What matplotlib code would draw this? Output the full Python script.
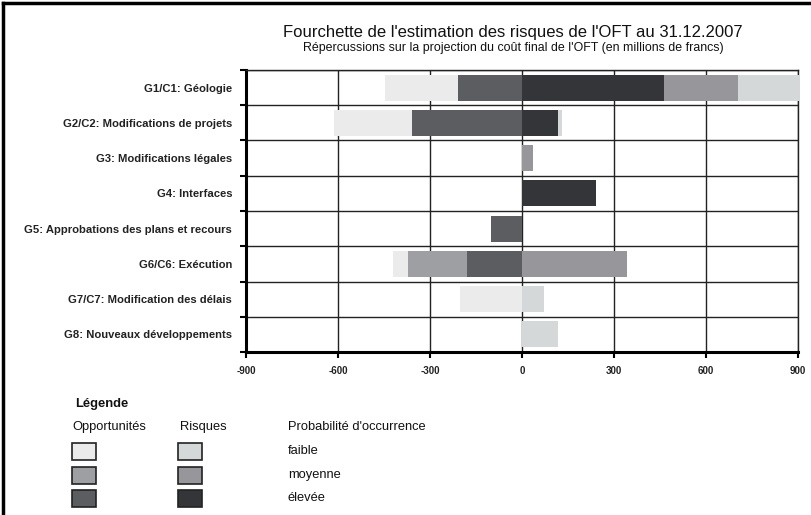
import numpy as np
import matplotlib.pyplot as plt
from matplotlib.patches import Rectangle

plt.rcParams['font.family'] = ['Liberation Sans', 'DejaVu Sans']

# ---- data (millions de francs) ----
categories = [
    "G1/C1: Géologie",
    "G2/C2: Modifications de projets",
    "G3: Modifications légales",
    "G4: Interfaces",
    "G5: Approbations des plans et recours",
    "G6/C6: Exécution",
    "G7/C7: Modification des délais",
    "G8: Nouveaux développements",
]
# opportunités (négatif), segments from 0 outwards: élevée, moyenne, faible
opp_elevee  = [209, 359, 0, 0, 101, 178, 0, 0]
opp_moyenne = [0, 0, 0, 0, 0, 193, 0, 0]
opp_faible  = [238, 253, 0, 0, 0, 51, 202, 0]
# risques (positif), segments from 0 outwards: élevée, moyenne, faible
risk_elevee  = [462, 116, 0, 241, 0, 0, 0, 0]
risk_moyenne = [241, 0, 36, 0, 0, 341, 0, 0]
risk_faible  = [205, 16, 0, 0, 0, 0, 71, 119]

xticks = [-900, -600, -300, 0, 300, 600, 900]

# colours
C_OPP = {"faible": "#ebebeb", "moyenne": "#9d9fa2", "elevee": "#5c5d61"}
C_RISK = {"faible": "#d5d8d8", "moyenne": "#97979b", "elevee": "#343538"}

fig = plt.figure(figsize=(8.11, 5.15), dpi=100)
ax = fig.add_axes([246 / 811, 1 - 352 / 515, 552 / 811, 282 / 515])

y = np.arange(len(categories)) + 0.5
h = 0.74

# opportunities, stacked leftwards
o1 = -np.array(opp_elevee)
o2 = -np.array(opp_moyenne)
o3 = -np.array(opp_faible)
ax.barh(y, o1, left=0, height=h, color=C_OPP["elevee"], zorder=3)
ax.barh(y, o2, left=o1, height=h, color=C_OPP["moyenne"], zorder=3)
ax.barh(y, o3, left=o1 + o2, height=h, color=C_OPP["faible"], zorder=3)

# risks, stacked rightwards
r1 = np.array(risk_elevee)
r2 = np.array(risk_moyenne)
r3 = np.array(risk_faible)
ax.barh(y, r1, left=0, height=h, color=C_RISK["elevee"], zorder=3)
ax.barh(y, r2, left=r1, height=h, color=C_RISK["moyenne"], zorder=3)
ax.barh(y, r3, left=r1 + r2, height=h, color=C_RISK["faible"], zorder=3, clip_on=False)

ax.set_xlim(-900, 900)
ax.set_ylim(len(categories), 0)

ax.set_xticks(xticks)
ax.set_xticklabels([str(t) for t in xticks], fontsize=7, fontweight="bold", color="#222222")
ax.set_yticks(np.arange(len(categories) + 1))
ax.set_yticklabels([])
ax.set_yticks(y, minor=True)
ax.set_yticklabels(categories, minor=True, fontsize=8.1, fontweight="bold", color="#222222")
ax.tick_params(axis="y", which="minor", length=0, pad=10)
ax.tick_params(axis="y", which="major", direction="out", length=4, width=1.5)
ax.tick_params(axis="x", direction="out", length=4, width=1.5, pad=6)

ax.grid(True, which="major", color="#222222", linewidth=1.0, zorder=1)
ax.set_axisbelow(True)
for s in ["left", "bottom"]:
    ax.spines[s].set_linewidth(2.2)
for s in ["top", "right"]:
    ax.spines[s].set_linewidth(1.0)
    ax.spines[s].set_color("#222222")

# titles
fig.text(513 / 811, 1 - 33 / 515, "Fourchette de l'estimation des risques de l'OFT au 31.12.2007",
         ha="center", va="center", fontsize=12, color="#111111")
fig.text(513 / 811, 1 - 48 / 515, "Répercussions sur la projection du coût final de l'OFT (en millions de francs)",
         ha="center", va="center", fontsize=8.9, color="#111111")

# legend
def ft(x, yy, s, **kw):
    fig.text(x / 811, 1 - yy / 515, s, va="center", fontsize=9.3, color="#111111", **kw)

ft(75, 404, "Légende", fontweight="bold")
ft(72, 427, "Opportunités")
ft(180, 427, "Risques")
ft(288, 427, "Probabilité d'occurrence")

levels = ["faible", "moyenne", "elevee"]
labels = ["faible", "moyenne", "élevée"]
rows_y = [451, 475, 498]
for lvl, lab, yy in zip(levels, labels, rows_y):
    for x0, col in [(72, C_OPP[lvl]), (178, C_RISK[lvl])]:
        fig.add_artist(Rectangle((x0 / 811, 1 - (yy + 8.5) / 515), 24 / 811, 17 / 515,
                                 transform=fig.transFigure, facecolor=col,
                                 edgecolor="#222222", linewidth=1.2))
    ft(288, yy, lab)

# outer frame (left and top)
fig.add_artist(plt.Line2D([2.5 / 811, 2.5 / 811], [0, 1 - 2.5 / 515], transform=fig.transFigure,
                          color="black", linewidth=2.5))
fig.add_artist(plt.Line2D([2.5 / 811, 1], [1 - 2.5 / 515, 1 - 2.5 / 515], transform=fig.transFigure,
                          color="black", linewidth=2.5))

fig.savefig("out.png", dpi=100)
